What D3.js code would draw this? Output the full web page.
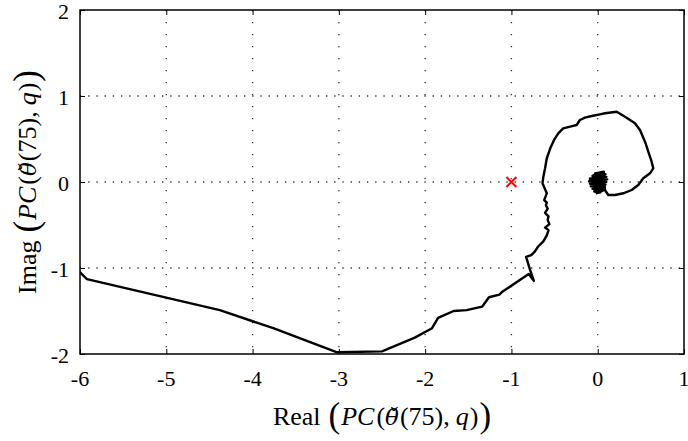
<!DOCTYPE html>
<html>
<head>
<meta charset="utf-8">
<script src="https://cdn.jsdelivr.net/npm/d3@7"></script>
<style>
  html, body { margin: 0; padding: 0; background: #fff; }
  svg text { font-family: "Liberation Serif", "DejaVu Serif", serif; fill: #000; }
</style>
</head>
<body>
<svg id="chart" width="688" height="441"></svg>
<script>
// Nyquist curve of PC(theta(75), q): real and imaginary parts along the frequency sweep
const realPart = [
  -6.00, -5.92, -4.38, -3.76, -3.02, -2.50, -2.12, -1.92, -1.85, -1.67,
  -1.52, -1.34, -1.26, -1.14, -1.11, -0.80, -0.74, -0.785, -0.83, -0.77,
  -0.73, -0.69, -0.63, -0.59, -0.57, -0.61, -0.56, -0.58, -0.57, -0.61,
  -0.58, -0.60, -0.59, -0.62, -0.59, -0.64, -0.63, -0.61, -0.59, -0.55,
  -0.515, -0.495, -0.457, -0.40, -0.32, -0.244, -0.206, -0.148, -0.07, 0.026,
  0.084, 0.22, 0.316, 0.432, 0.49, 0.548, 0.586, 0.625, 0.644, 0.606,
  0.528, 0.47, 0.394, 0.297, 0.20, 0.122, 0.084,
  // tight cluster around the origin at high frequency
  0.07, -0.03, 0.09, -0.06, 0.10, -0.09, 0.11, -0.10, 0.10, -0.09,
  0.09, -0.08, 0.07, -0.06, 0.05, -0.04, 0.03, -0.01, 0.06, -0.07,
  0.08, -0.09, 0.06, -0.05, 0.0
];
const imagPart = [
  -1.05, -1.13, -1.49, -1.70, -1.98, -1.97, -1.81, -1.70, -1.58, -1.50,
  -1.49, -1.45, -1.34, -1.31, -1.28, -1.07, -1.15, -1.02, -0.87, -0.85,
  -0.81, -0.75, -0.69, -0.62, -0.56, -0.53, -0.49, -0.44, -0.40, -0.36,
  -0.31, -0.27, -0.24, -0.21, -0.13, -0.015, 0.062, 0.159, 0.276, 0.392,
  0.469, 0.508, 0.566, 0.624, 0.643, 0.663, 0.721, 0.748, 0.767, 0.787,
  0.799, 0.817, 0.759, 0.683, 0.605, 0.469, 0.352, 0.236, 0.159, 0.101,
  0.043, -0.035, -0.093, -0.131, -0.151, -0.151, -0.093,
  0.12, 0.10, 0.09, 0.07, 0.06, 0.04, 0.03, 0.01, 0.00, -0.02,
  -0.03, -0.05, -0.06, -0.08, -0.09, -0.11, -0.12, -0.13, -0.10, -0.03,
  0.05, 0.02, -0.07, 0.08, 0.0
];

// Critical point -1 + 0j
const criticalPoint = [-1, 0];

const xTicks = [-6, -5, -4, -3, -2, -1, 0, 1];
const yTicks = [-2, -1, 0, 1, 2];

const W = 688, H = 441;
const margin = { left: 80, right: 4, top: 10, bottom: 87 };
const svg = d3.select("#chart");

const x = d3.scaleLinear().domain([-6, 1]).range([margin.left, W - margin.right]);
const y = d3.scaleLinear().domain([-2, 2]).range([H - margin.bottom, margin.top]);

// Dotted grid
const grid = svg.append("g");
grid.selectAll("line.vx").data(xTicks.slice(1, -1)).join("line")
  .attr("x1", d => x(d)).attr("x2", d => x(d))
  .attr("y1", y(2)).attr("y2", y(-2))
  .attr("stroke", "#333").attr("stroke-width", 1.3)
  .attr("stroke-dasharray", "1.3,10.7");
grid.selectAll("line.hy").data(yTicks.slice(1, -1)).join("line")
  .attr("x1", x(-6)).attr("x2", x(1))
  .attr("y1", d => y(d)).attr("y2", d => y(d))
  .attr("stroke", "#333").attr("stroke-width", 1.3)
  .attr("stroke-dasharray", "1.3,6.9");

// Inward ticks on all four sides
const tickLen = 5;
const axisBottom = d3.axisBottom(x).tickValues(xTicks).tickSizeInner(-tickLen).tickSizeOuter(0).tickFormat("");
const axisTop = d3.axisTop(x).tickValues(xTicks).tickSizeInner(-tickLen).tickSizeOuter(0).tickFormat("");
const axisLeft = d3.axisLeft(y).tickValues(yTicks).tickSizeInner(-tickLen).tickSizeOuter(0).tickFormat("");
const axisRight = d3.axisRight(y).tickValues(yTicks).tickSizeInner(-tickLen).tickSizeOuter(0).tickFormat("");
[[axisBottom, `translate(0,${y(-2)})`], [axisTop, `translate(0,${y(2)})`],
 [axisLeft, `translate(${x(-6)},0)`], [axisRight, `translate(${x(1)},0)`]].forEach(([ax, tr]) => {
  const g = svg.append("g").attr("transform", tr).call(ax);
  g.select(".domain").remove();
  g.selectAll("line").attr("stroke", "#000").attr("stroke-width", 1);
});

// Tick labels
svg.append("g").selectAll("text").data(xTicks).join("text")
  .attr("x", d => x(d)).attr("y", y(-2) + 32)
  .attr("text-anchor", "middle").attr("font-size", 22)
  .text(d => d);
svg.append("g").selectAll("text").data(yTicks).join("text")
  .attr("x", x(-6) - 11).attr("y", d => y(d) + 8.5)
  .attr("text-anchor", "end").attr("font-size", 22)
  .text(d => d);

// Curve
svg.append("clipPath").attr("id", "plotClip").append("rect")
  .attr("x", x(-6)).attr("y", y(2)).attr("width", x(1) - x(-6)).attr("height", y(-2) - y(2));
const pts = realPart.map((r, i) => [r, imagPart[i]]);
svg.append("path")
  .datum(pts)
  .attr("clip-path", "url(#plotClip)")
  .attr("d", d3.line().x(d => x(d[0])).y(d => y(d[1])))
  .attr("fill", "none").attr("stroke", "#000").attr("stroke-width", 2.4)
  .attr("stroke-linejoin", "round").attr("stroke-linecap", "round");

// Critical point marker
const cx = x(criticalPoint[0]), cy = y(criticalPoint[1]), s = 5;
svg.append("path")
  .attr("d", `M${cx - s},${cy - s}L${cx + s},${cy + s}M${cx - s},${cy + s}L${cx + s},${cy - s}`)
  .attr("stroke", "#ff0000").attr("stroke-width", 2).attr("fill", "none");

// Frame
svg.append("rect")
  .attr("x", x(-6)).attr("y", y(2)).attr("width", x(1) - x(-6)).attr("height", y(-2) - y(2))
  .attr("fill", "none").attr("stroke", "#000").attr("stroke-width", 1.5);

// Axis titles: name ( PC( θ̌(75), q ) ) with math-style spacing
function axisTitle(sel, name) {
  const fs = 26, big = 35;
  sel.append("tspan").text(name);
  sel.append("tspan").attr("dx", 8).attr("font-size", big).attr("dy", 2).text("(");
  sel.append("tspan").attr("dx", 1).attr("font-size", fs).attr("dy", -2).attr("font-style", "italic").text("PC");
  sel.append("tspan").attr("dx", 2).text("(");
  // theta with combining caron
  sel.append("tspan").attr("font-style", "italic").attr("font-size", 23)
    .style("font-family", "'DejaVu Serif', serif").text("\u03B8\u030C");
  sel.append("tspan").attr("dx", 1).attr("font-size", fs).text("(75),");
  sel.append("tspan").attr("dx", 6).attr("font-style", "italic").text("q");
  sel.append("tspan").attr("dx", 1).text(")");
  sel.append("tspan").attr("dx", 1).attr("font-size", big).attr("dy", 2).text(")");
}
const xTitle = svg.append("text")
  .attr("x", (x(-6) + x(1)) / 2).attr("y", 425)
  .attr("text-anchor", "middle").attr("font-size", 26);
axisTitle(xTitle, "Real");

const yTitle = svg.append("text")
  .attr("transform", `translate(36,${(y(2) + y(-2)) / 2}) rotate(-90)`)
  .attr("text-anchor", "middle").attr("font-size", 26);
axisTitle(yTitle, "Imag");
</script>
</body>
</html>
